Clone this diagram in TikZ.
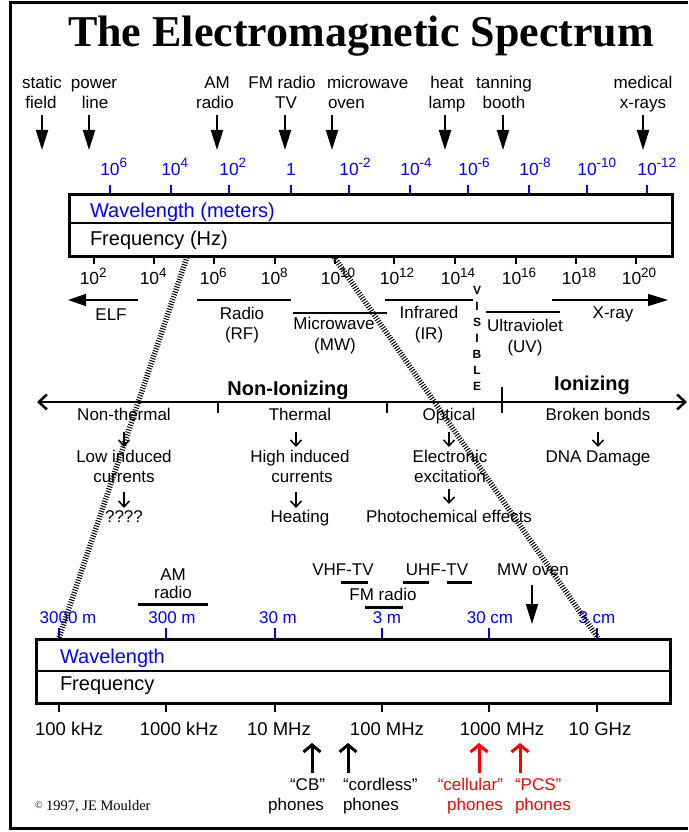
\documentclass[tikz,border=0pt]{standalone}
\usepackage{fontspec}
\setmainfont{Liberation Sans}
\newfontfamily\titlefont{Liberation Serif}
\usetikzlibrary{arrows.meta}
\definecolor{wlblue}{RGB}{0,0,255}
\definecolor{phred}{RGB}{255,0,0}
\newcommand\sexp[1]{\rlap{\raisebox{7pt}{\fontsize{13.5}{13.5}\selectfont#1}}}
\begin{document}
\begin{tikzpicture}[x=1pt,y=-1pt,
  every node/.style={inner sep=0pt, outer sep=0pt},
  lbl/.style={font=\fontsize{17}{17}\selectfont, anchor=base},
  boxlbl/.style={font=\fontsize{20}{20}\selectfont, anchor=base west},
  wl/.style={font=\fontsize{17.5}{17.5}\selectfont, text=wlblue, anchor=base},
  fq/.style={font=\fontsize{17.5}{17.5}\selectfont, anchor=base},
  lowfq/.style={font=\fontsize{18.5}{18.5}\selectfont, anchor=base},
  bold/.style={font=\bfseries\fontsize{20}{20}\selectfont, anchor=base},
  band/.style={line width=1.5pt},
  tickline/.style={line width=1.5pt},
  wltick/.style={line width=1.5pt, draw=wlblue},
  bigarrow/.style={line width=2pt, -{Triangle[length=20pt,width=12pt]}},
  smallarrow/.style={line width=1.5pt, -{Straight Barb[length=6pt,width=11pt]}},
  phonearrow/.style={line width=3pt, -{Straight Barb[length=7pt,width=17pt]}},
  hatch/.style={draw=black, line width=5.5pt, dash pattern=on 1pt off 1.6pt},
  framed/.style={line width=3pt},
  outerbox/.style={draw, line width=3pt, anchor=north west},
  thickbar/.style={line width=3pt},
]
\useasboundingbox (0,0) rectangle (688,832);
\fill[white] (0,0) rectangle (688,832);
% frame
\coordinate (fr-tr) at (688,3); \coordinate (fr-tl) at (10,3);
\coordinate (fr-bl) at (10,828); \coordinate (fr-br) at (688,828);
\draw[framed] (fr-tr) -- (fr-tl) -- (fr-bl) -- (fr-br);
% title
\node[font=\titlefont\bfseries\fontsize{44}{44}\selectfont, anchor=base] (title) at (361,47) {The Electromagnetic Spectrum};

% top labels
\node[lbl] (t-static) at (42,89) {static};
\node[lbl] (t-field) at (41,109) {field};
\node[lbl] (t-power) at (94,89) {power};
\node[lbl] (t-line) at (95,109) {line};
\node[lbl] (t-am) at (217,89) {AM};
\node[lbl] (t-amr) at (215,109) {radio};
\node[lbl] (t-fm) at (282,89) {FM radio};
\node[lbl] (t-tv) at (286,109) {TV};
\node[lbl,anchor=base west] (t-mw) at (327,89) {microwave};
\node[lbl,anchor=base west] (t-oven) at (328,109) {oven};
\node[lbl] (t-heat) at (447,89) {heat};
\node[lbl] (t-lamp) at (447,109) {lamp};
\node[lbl] (t-tan) at (504,89) {tanning};
\node[lbl] (t-booth) at (504,109) {booth};
\node[lbl] (t-med) at (643,89) {medical};
\node[lbl] (t-xr) at (643,109) {x-rays};
\foreach \n/\x in {static/42, power/89, am/217, fm/285, mw/332, heat/445, tan/503, med/643} {
  \coordinate (ta-\n-s) at (\x,115);
  \coordinate (ta-\n-e) at (\x,150);
  \draw[bigarrow] (ta-\n-s) -- (ta-\n-e);
}

% top wavelength scale
\foreach \x/\lab [count=\k] in {110/{10\sexp{6}},171/{10\sexp{4}},229/{10\sexp{2}},291/{1},349/{10\sexp{-2}},410/{10\sexp{-4}},468/{10\sexp{-6}},529/{10\sexp{-8}},587/{10\sexp{-10}},647/{10\sexp{-12}}} {
  \node[wl] (wlab\k) at (\x,175) {\lab};
  \coordinate (wt\k-a) at (\x,185);
  \coordinate (wt\k-b) at (\x,194);
  \draw[wltick] (wt\k-a) -- (wt\k-b);
}
\node[outerbox, minimum width=603pt, minimum height=62pt] (topbox) at (69,194) {};
\coordinate (tm-l) at (69,223); \coordinate (tm-r) at (672,223);
\draw[line width=1.5pt] (tm-l) -- (tm-r);
\node[boxlbl, text=wlblue] (wl-lbl) at (90,217) {Wavelength (meters)};
\node[boxlbl] (fq-lbl) at (90,245) {Frequency (Hz)};

% frequency scale
\foreach \x/\e [count=\k] in {94/2,154/4,214/6,275/8,335/10,394/12,455/14,516/16,576/18,636/20} {
  \coordinate (ft\k-a) at (\x,256);
  \coordinate (ft\k-b) at (\x,264);
  \draw[tickline] (ft\k-a) -- (ft\k-b);
  \node[fq] (flab\k) at (\x-4.5,284) {10\sexp{\e}};
}

% bands
\coordinate (elf-r) at (138,300); \coordinate (elf-l) at (68,300);
\draw[band, -{Triangle[length=18pt,width=12pt]}] (elf-r) -- (elf-l);
\node[lbl] (elf) at (111,320) {ELF};
\coordinate (rf-l) at (197,300); \coordinate (rf-r) at (291,300);
\draw[band] (rf-l) -- (rf-r);
\node[lbl] (rf1) at (242,319) {Radio};
\node[lbl] (rf2) at (242,339) {(RF)};
\coordinate (mwb-l) at (293,313); \coordinate (mwb-r) at (387,313);
\draw[band] (mwb-l) -- (mwb-r);
\node[lbl] (mwb1) at (334,329) {Microwave};
\node[lbl] (mwb2) at (335,350) {(MW)};
\coordinate (ir-l) at (385,300); \coordinate (ir-r) at (473,300);
\draw[band] (ir-l) -- (ir-r);
\node[lbl] (ir1) at (429,318) {Infrared};
\node[lbl] (ir2) at (429,339) {(IR)};
\foreach \c [count=\k from 0] in {V,I,S,I,B,L,E} {
  \node[font=\bfseries\fontsize{12}{12}\selectfont, anchor=center] (vis\k) at (477,290+16*\k) {\c};
}
\coordinate (uv-l) at (486,312); \coordinate (uv-r) at (560,312);
\draw[band] (uv-l) -- (uv-r);
\node[lbl] (uv1) at (525,331) {Ultraviolet};
\node[lbl] (uv2) at (525,352) {(UV)};
\coordinate (xr-l) at (552,300); \coordinate (xr-r) at (668,300);
\draw[band, -{Triangle[length=20pt,width=12pt]}] (xr-l) -- (xr-r);
\node[lbl] (xray) at (613,318) {X-ray};

% ionizing axis
\node[bold] (nonion) at (288,395) {Non-Ionizing};
\node[bold] (ion) at (592,390) {Ionizing};
\coordinate (ax-l) at (37,402); \coordinate (ax-r) at (687,402);
\draw[line width=2.5pt, {Straight Barb[length=8pt,width=15pt]}-{Straight Barb[length=8pt,width=15pt]}] (ax-l) -- (ax-r);
\coordinate (axt1-a) at (218,401); \coordinate (axt1-b) at (218,413);
\coordinate (axt2-a) at (387,401); \coordinate (axt2-b) at (387,413);
\coordinate (axt3-a) at (502,387); \coordinate (axt3-b) at (502,413);
\draw[line width=2.5pt] (axt1-a) -- (axt1-b);
\draw[line width=2.5pt] (axt2-a) -- (axt2-b);
\draw[line width=2.5pt] (axt3-a) -- (axt3-b);

% columns
\node[lbl] (c1a) at (124,420) {Non-thermal};
\node[lbl] (c1b) at (124,462) {Low induced};
\node[lbl] (c1c) at (124,482) {currents};
\node[lbl] (c1d) at (124,522) {????};
\node[lbl] (c2a) at (300,420) {Thermal};
\node[lbl] (c2b) at (300,462) {High induced};
\node[lbl] (c2c) at (302,482) {currents};
\node[lbl] (c2d) at (300,522) {Heating};
\node[lbl] (c3a) at (449,420) {Optical};
\node[lbl] (c3b) at (450,462) {Electronic};
\node[lbl] (c3c) at (450,482) {excitation};
\node[lbl] (c3d) at (449,522) {Photochemical effects};
\node[lbl] (c4a) at (598,420) {Broken bonds};
\node[lbl] (c4b) at (598,462) {DNA Damage};
\foreach \n/\x/\ya/\yb in {a1/124/432/447, a2/124/492/508, b1/296/432/447, b2/296/492/508, c1/449/432/447, c2/449/489/504, d1/598/432/447} {
  \coordinate (sa-\n-s) at (\x,\ya);
  \coordinate (sa-\n-e) at (\x,\yb);
  \draw[smallarrow] (sa-\n-s) -- (sa-\n-e);
}

% lower section labels
\node[lbl] (l-am) at (173,580) {AM};
\node[lbl] (l-amr) at (173,598) {radio};
\coordinate (amb-l) at (138,604); \coordinate (amb-r) at (208,604);
\draw[thickbar] (amb-l) -- (amb-r);
\node[lbl] (l-vhf) at (343,575) {VHF-TV};
\coordinate (vhf-l) at (341,582); \coordinate (vhf-r) at (368,582);
\draw[thickbar] (vhf-l) -- (vhf-r);
\node[lbl] (l-uhf) at (437,575) {UHF-TV};
\coordinate (uhf1-l) at (403,582); \coordinate (uhf1-r) at (429,582);
\coordinate (uhf2-l) at (447,582); \coordinate (uhf2-r) at (472,582);
\draw[thickbar] (uhf1-l) -- (uhf1-r);
\draw[thickbar] (uhf2-l) -- (uhf2-r);
\node[lbl] (l-fm) at (383,600) {FM radio};
\coordinate (fmb-l) at (365,607); \coordinate (fmb-r) at (403,607);
\draw[thickbar] (fmb-l) -- (fmb-r);
\node[lbl] (l-mwo) at (533,575) {MW oven};
\coordinate (mwo-s) at (532,585); \coordinate (mwo-e) at (532,624);
\draw[bigarrow] (mwo-s) -- (mwo-e);

% lower wavelength scale
\foreach \tx/\lx/\lab [count=\k] in {59/68/{3000 m},166/172/{300 m},275/278/{30 m},382/387/{3 m},489/490/{30 cm},597/597/{3 cm}} {
  \node[wl, font=\fontsize{17}{17}\selectfont] (lwl\k) at (\lx,623) {\lab};
  \coordinate (lwt\k-a) at (\tx,628);
  \coordinate (lwt\k-b) at (\tx,639);
  \draw[wltick] (lwt\k-a) -- (lwt\k-b);
  \coordinate (lft\k-a) at (\tx,703);
  \coordinate (lft\k-b) at (\tx,712);
  \draw[tickline] (lft\k-a) -- (lft\k-b);
}
\node[outerbox, minimum width=634pt, minimum height=64pt] (lowbox) at (36,639) {};
\coordinate (lm-l) at (36,671); \coordinate (lm-r) at (670,671);
\draw[line width=1.5pt] (lm-l) -- (lm-r);
\node[boxlbl, text=wlblue] (lwl-lbl) at (60,663) {Wavelength};
\node[boxlbl] (lfq-lbl) at (60,690) {Frequency};
\foreach \lx/\lab [count=\k] in {69/{100 kHz},179/{1000 kHz},279/{10 MHz},387/{100 MHz},502/{1000 MHz},600/{10 GHz}} {
  \node[lowfq] (lfl\k) at (\lx,735) {\lab};
}

% phones
\foreach \n/\x/\col in {cb/312/black, cord/348/black, cell/479/phred, pcs/520/phred} {
  \coordinate (ph-\n-s) at (\x,773);
  \coordinate (ph-\n-e) at (\x,743);
  \draw[phonearrow, draw=\col] (ph-\n-s) -- (ph-\n-e);
}
\node[lbl, anchor=base east] (cb1) at (325,790) {“CB”};
\node[lbl, anchor=base east] (cb2) at (324,810) {phones};
\node[lbl, anchor=base west] (co1) at (343,790) {“cordless”};
\node[lbl, anchor=base west] (co2) at (343,810) {phones};
\node[lbl, anchor=base east, text=phred] (ce1) at (503,790) {“cellular”};
\node[lbl, anchor=base east, text=phred] (ce2) at (503,810) {phones};
\node[lbl, anchor=base west, text=phred] (pc1) at (515,790) {“PCS”};
\node[lbl, anchor=base west, text=phred] (pc2) at (515,810) {phones};

\node[font=\titlefont\fontsize{14.5}{14.5}\selectfont, anchor=base west] (copy) at (35,810) {{\fontsize{10}{10}\selectfont\raisebox{2pt}{©}} 1997, JE Moulder};

% hatched zoom lines
\coordinate (hz1-a) at (187,257); \coordinate (hz1-b) at (59,638);
\coordinate (hz2-a) at (334,257); \coordinate (hz2-b) at (598,638);
\draw[hatch] (hz1-a) -- (hz1-b);
\draw[hatch] (hz2-a) -- (hz2-b);
\end{tikzpicture}
\end{document}
